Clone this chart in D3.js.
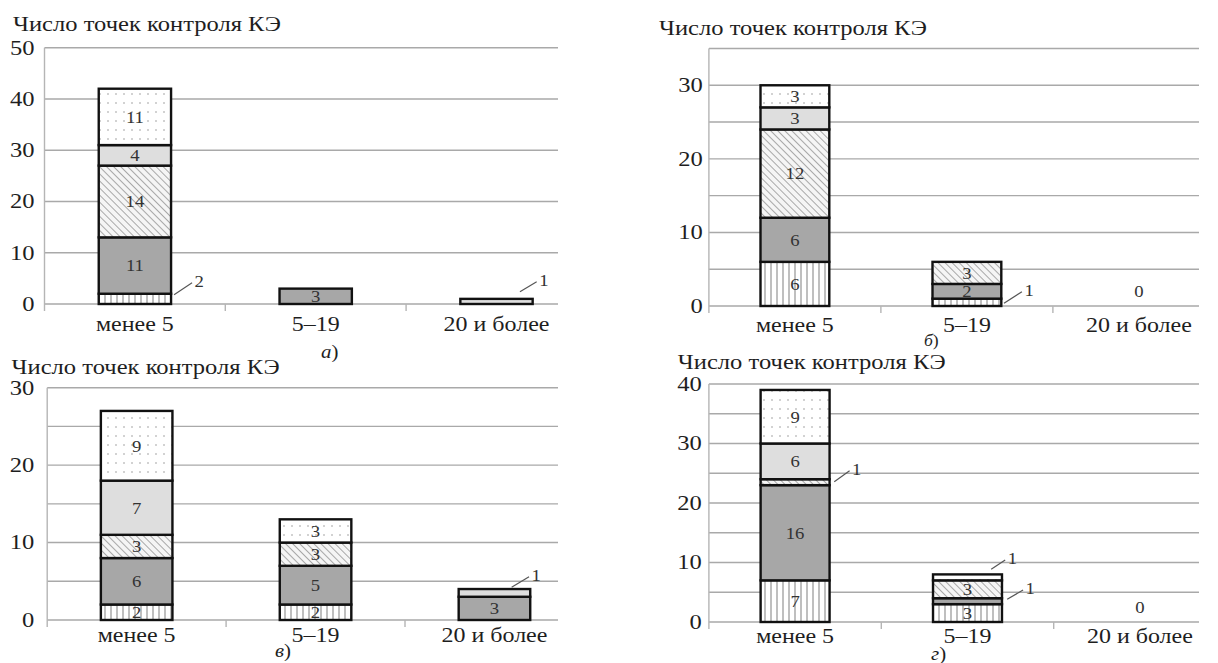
<!DOCTYPE html>
<html lang="ru">
<head>
<meta charset="UTF-8">
<title>Число точек контроля КЭ</title>
<script src="https://d3js.org/d3.v7.min.js"></script>
<style>
  body { margin: 0; background: #fff; }
  svg { display: block; }
</style>
</head>
<body>
<svg width="1218" height="663"></svg>
<script>
// ---- data ----
const categories = ["менее 5", "5–19", "20 и более"];
const seriesKeys = ["vlines", "dark", "hatch", "light", "dots"]; // bottom -> top

// values per category, in seriesKeys order
const valuesA = [[2, 11, 14, 4, 11], [0, 3, 0, 0, 0], [0, 0, 0, 1, 0]];
const valuesB = [[6, 6, 12, 3, 3], [1, 2, 3, 0, 0], [0, 0, 0, 0, 0]];
const valuesV = [[2, 6, 3, 7, 9], [2, 5, 3, 0, 3], [0, 3, 0, 1, 0]];
const valuesG = [[7, 16, 1, 6, 9], [3, 1, 3, 0, 1], [0, 0, 0, 0, 0]];

const yTicksA = [0, 10, 20, 30, 40, 50];
const yTicksB = [0, 10, 20, 30];
const yTicksV = [0, 10, 20, 30];
const yTicksG = [0, 10, 20, 30, 40];

// segments labelled outside the bar: [category, series]
const calloutsA = [[0, 0], [2, 3]];
const calloutsB = [[1, 0]];
const calloutsV = [[2, 3]];
const calloutsG = [[0, 2], [1, 1], [1, 4]];

const yTitle = "Число точек контроля КЭ";

// ---- layout ----
const FONT = "'Liberation Serif', Tinos, 'Times New Roman', serif";
const SX = 1.17; // the source glyphs are a bit wide
const panels = [
  { values: valuesA, ticks: yTicksA, callouts: calloutsA, yMax: 50, grid: 10, letter: "а",
    x0: 44.5, step: 180.8, gridEnd: 558, yTop: 47.7, yBot: 304, tickGap: 10,
    titleX: 13, titleY: 30.5, catY: 331, letterX: 321, letterY: 358, letterSize: 19,
    geom: [[3, -4, 21, -16], [-12.7, -9.7, 4, -19.7]] },
  { values: valuesB, ticks: yTicksB, callouts: calloutsB, yMax: 35, grid: 5, letter: "б",
    x0: 708.9, step: 172, gridEnd: 1199, yTop: 48.5, yBot: 306, tickGap: 6,
    titleX: 659, titleY: 35, catY: 332, letterX: 924, letterY: 346, letterSize: 16,
    geom: [[2.7, 1, 20.6, -10.6]] },
  { values: valuesV, ticks: yTicksV, callouts: calloutsV, yMax: 30, grid: 5, letter: "в",
    x0: 47.2, step: 178.9, gridEnd: 558, yTop: 387.7, yBot: 620, tickGap: 13,
    titleX: 11.6, titleY: 374, catY: 642, letterX: 275, letterY: 657, letterSize: 19,
    geom: [[-18.6, -5.6, -1.2, -16.2]] },
  { values: valuesG, ticks: yTicksG, callouts: calloutsG, yMax: 40, grid: 5, letter: "г",
    x0: 708.9, step: 172.4, gridEnd: 1199, yTop: 384, yBot: 622, tickGap: 7,
    titleX: 677.8, titleY: 369, catY: 643, letterX: 931, letterY: 660, letterSize: 19,
    geom: [[4.7, -0.5, 20, -11.5], [5.2, -1.9, 21.1, -11.2], [-10.8, -8.1, 3.2, -17.4]] }
];

const svg = d3.select("svg");

// ---- fill patterns ----
const defs = svg.append("defs");
const pv = defs.append("pattern").attr("id", "vlines").attr("patternUnits", "userSpaceOnUse")
  .attr("width", 6).attr("height", 6);
pv.append("rect").attr("width", 6).attr("height", 6).attr("fill", "#fff");
pv.append("line").attr("x1", 3).attr("x2", 3).attr("y1", 0).attr("y2", 6)
  .attr("stroke", "#8a8a8a").attr("stroke-width", 1.1);

const ph = defs.append("pattern").attr("id", "hatch").attr("patternUnits", "userSpaceOnUse")
  .attr("width", 5).attr("height", 5).attr("patternTransform", "rotate(45)");
ph.append("rect").attr("width", 5).attr("height", 5).attr("fill", "#f5f5f5");
ph.append("line").attr("x1", 0).attr("x2", 5).attr("y1", 2.5).attr("y2", 2.5)
  .attr("stroke", "#a8a8a8").attr("stroke-width", 1);

const pd = defs.append("pattern").attr("id", "dots").attr("patternUnits", "userSpaceOnUse")
  .attr("width", 8).attr("height", 9);
pd.append("rect").attr("width", 8).attr("height", 9).attr("fill", "#fff");
pd.append("circle").attr("cx", 4).attr("cy", 4).attr("r", 0.75).attr("fill", "#909090");

const fills = { vlines: "url(#vlines)", dark: "#a7a7a7", hatch: "url(#hatch)", light: "#dedede", dots: "url(#dots)" };

function stext(g, x, y, str, size, anchor, sx) {
  return g.append("text")
    .attr("transform", `translate(${x},${y}) scale(${sx || SX},1)`)
    .attr("text-anchor", anchor)
    .attr("font-family", FONT)
    .attr("font-size", size)
    .attr("fill", "#1e1e1e")
    .text(str);
}

panels.forEach(p => {
  const g = svg.append("g");
  const x = d3.scaleBand().domain(categories)
    .range([p.x0, p.x0 + 3 * p.step]).paddingInner(0.6).paddingOuter(0.3);
  const y = d3.scaleLinear().domain([0, p.yMax]).range([p.yBot, p.yTop]);

  // gridlines
  g.selectAll(".grid").data(d3.range(0, p.yMax + 0.01, p.grid)).enter().append("line")
    .attr("x1", p.x0).attr("x2", p.gridEnd)
    .attr("y1", d => y(d)).attr("y2", d => y(d))
    .attr("stroke", "#a9a9a9").attr("stroke-width", 1.4);

  // y axis line and category ticks
  g.append("line").attr("x1", p.x0).attr("x2", p.x0).attr("y1", p.yTop).attr("y2", p.yBot + 7)
    .attr("stroke", "#b5b5b5").attr("stroke-width", 1.4);
  [1, 2].forEach(i => {
    const tx = x(categories[i]) - x.step() * 0.3;
    g.append("line").attr("x1", tx).attr("x2", tx).attr("y1", p.yBot).attr("y2", p.yBot + 7)
      .attr("stroke", "#b5b5b5").attr("stroke-width", 1.4);
  });

  // y tick labels
  p.ticks.forEach(t => {
    stext(g, p.x0 - p.tickGap, y(t) + 6.8, t, 21, "end");
  });

  // category labels
  categories.forEach(c => {
    stext(g, x(c) + x.bandwidth() / 2, p.catY, c, 20.5, "middle");
  });

  // title and letter
  stext(g, p.titleX, p.titleY, yTitle, 21, "start");
  const lt = g.append("text")
    .attr("transform", `translate(${p.letterX},${p.letterY}) scale(1.1,1)`)
    .attr("font-family", FONT)
    .attr("font-size", p.letterSize).attr("fill", "#1e1e1e");
  lt.append("tspan").attr("font-style", "italic").text(p.letter);
  lt.append("tspan").text(")");

  // stacked segments
  const stackData = categories.map((c, i) => {
    const row = { cat: c };
    seriesKeys.forEach((k, j) => row[k] = p.values[i][j]);
    return row;
  });
  const layers = d3.stack().keys(seriesKeys)(stackData);
  const isCallout = (ci, si) => p.callouts.some(d => d[0] === ci && d[1] === si);

  layers.forEach((layer, si) => {
    layer.forEach((seg, ci) => {
      const v = seg[1] - seg[0];
      if (v <= 0) return;
      g.append("rect")
        .attr("x", x(categories[ci])).attr("width", x.bandwidth())
        .attr("y", y(seg[1])).attr("height", y(seg[0]) - y(seg[1]))
        .attr("fill", fills[seriesKeys[si]])
        .attr("stroke", "#111").attr("stroke-width", 2.4);
    });
  });

  layers.forEach((layer, si) => {
    layer.forEach((seg, ci) => {
      const v = seg[1] - seg[0];
      if (v <= 0 || isCallout(ci, si)) return;
      stext(g, x(categories[ci]) + x.bandwidth() / 2, y((seg[0] + seg[1]) / 2) + 5.8, v, 17, "middle", 1.1)
        .attr("fill", "#333");
    });
  });

  // zero totals
  categories.forEach((c, ci) => {
    if (d3.sum(p.values[ci]) === 0) {
      stext(g, x(c) + x.bandwidth() / 2, p.yBot - 9, 0, 17, "middle", 1.1).attr("fill", "#333");
    }
  });

  // callouts
  p.callouts.forEach((d, k) => {
    const seg = layers[d[1]][d[0]];
    const bx = x(categories[d[0]]) + x.bandwidth();
    const by = y((seg[0] + seg[1]) / 2);
    const gm = p.geom[k];
    g.append("line")
      .attr("x1", bx + gm[0]).attr("y1", by + gm[1])
      .attr("x2", bx + gm[2]).attr("y2", by + gm[3])
      .attr("stroke", "#555").attr("stroke-width", 1.2);
    stext(g, bx + gm[2] + 2.5, by + gm[3] + 4, seg[1] - seg[0], 17, "start", 1.1).attr("fill", "#333");
  });
});
</script>
</body>
</html>
